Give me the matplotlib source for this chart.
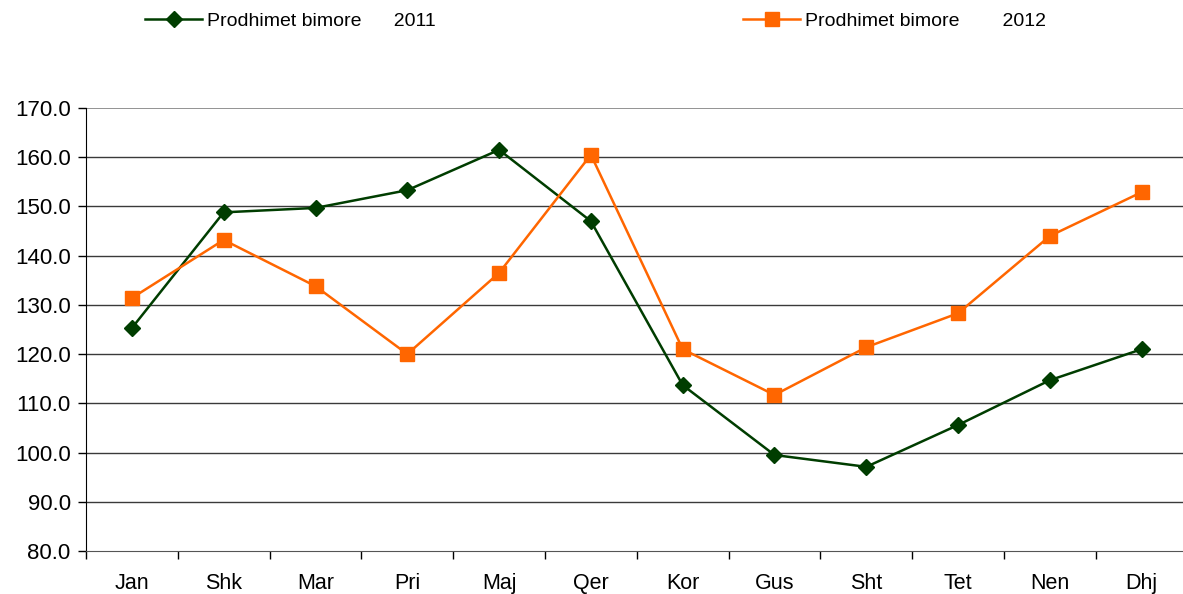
import matplotlib.pyplot as plt
from matplotlib.lines import Line2D

plt.rcParams['font.family'] = ['Liberation Sans', 'DejaVu Sans']

muajt = ['Jan', 'Shk', 'Mar', 'Pri', 'Maj', 'Qer', 'Kor', 'Gus', 'Sht', 'Tet', 'Nen', 'Dhj']
v2011 = [125.3, 148.8, 149.7, 153.3, 161.5, 147.0, 113.7, 99.5, 97.1, 105.6, 114.7, 121.0]
v2012 = [131.4, 143.2, 133.8, 120.0, 136.5, 160.5, 121.0, 111.7, 121.4, 128.3, 144.0, 152.9]
y_ticks = [80, 90, 100, 110, 120, 130, 140, 150, 160, 170]

green = '#003d00'
orange = '#ff6600'

fig = plt.figure(figsize=(11.83, 5.94), dpi=100)
ax = fig.add_axes([86 / 1183, 1 - 551 / 594, 1101.6 / 1183, 443 / 594])

x = range(len(muajt))
ax.plot(x, v2011, color=green, lw=1.8, marker='D', markersize=8, zorder=3)
ax.plot(x, v2012, color=orange, lw=1.8, marker='s', markersize=10, zorder=3)

ax.set_xlim(-0.5, len(muajt) - 0.5)
ax.set_ylim(80, 170)
ax.set_yticks(y_ticks)
ax.set_yticklabels([f'{v:.1f}' for v in y_ticks], fontsize=16)
ax.set_xticks(x)
ax.set_xticklabels(muajt, fontsize=15.5)
ax.set_xticks([i - 0.5 for i in range(len(muajt) + 1)], minor=True)
ax.tick_params(axis='x', which='major', length=0, pad=16)
ax.tick_params(axis='x', which='minor', length=6, width=1, color='black', direction='out')
ax.tick_params(axis='y', length=6, width=1, color='black', pad=5)

for v in y_ticks[1:-1]:
    ax.axhline(v, color='#3a3a3a', lw=1, zorder=1)
ax.axhline(y_ticks[-1], color='#808080', lw=1.2, zorder=1)
for s in ['top', 'right']:
    ax.spines[s].set_visible(False)
ax.spines['bottom'].set_color('#555555')
ax.spines['left'].set_color('black')

h1 = Line2D([], [], color=green, lw=1.8, marker='D', markersize=8)
h2 = Line2D([], [], color=orange, lw=1.8, marker='s', markersize=10)
fig.legend([h1], ['Prodhimet bimore      2011'], loc='center left',
           bbox_to_anchor=(128 / 1183, 1 - 21 / 594), frameon=False,
           fontsize=14, handlelength=2.9, handletextpad=0.25)
fig.legend([h2], ['Prodhimet bimore        2012'], loc='center left',
           bbox_to_anchor=(726 / 1183, 1 - 21 / 594), frameon=False,
           fontsize=14, handlelength=2.9, handletextpad=0.25)

fig.savefig('out.png', dpi=100)
